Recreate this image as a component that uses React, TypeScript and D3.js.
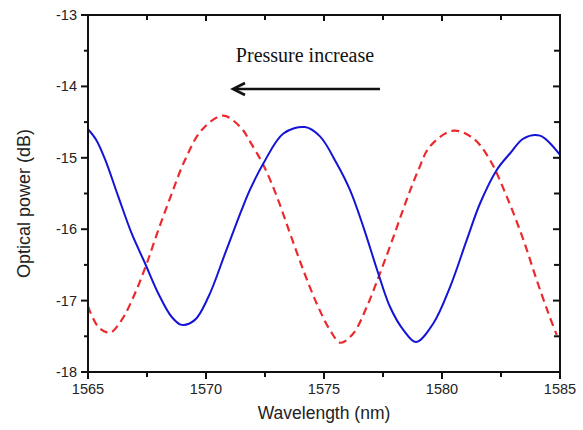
import React from "react";
import * as d3 from "d3";

const blueWl = [1565.0, 1565.35, 1565.72, 1566.28, 1566.85, 1567.42, 1567.98, 1568.55, 1568.97, 1569.53, 1570.1, 1570.81, 1571.51, 1571.86, 1572.43, 1573.28, 1574.19, 1574.83, 1575.54, 1576.1, 1576.67, 1577.3, 1577.8, 1578.36, 1578.9, 1579.63, 1580.34, 1581.05, 1581.61, 1582.32, 1582.88, 1583.45, 1584.15, 1585.0];
const bluePow = [-14.6, -14.75, -15.02, -15.54, -16.06, -16.48, -16.9, -17.23, -17.34, -17.27, -16.95, -16.34, -15.73, -15.45, -15.08, -14.66, -14.57, -14.7, -15.08, -15.45, -15.97, -16.62, -17.09, -17.41, -17.58, -17.32, -16.81, -16.15, -15.64, -15.17, -14.94, -14.73, -14.69, -14.96];

const redWl = [1565.0, 1565.44, 1565.93, 1566.43, 1566.99, 1567.49, 1567.98, 1568.55, 1569.11, 1569.82, 1570.73, 1571.51, 1571.86, 1572.43, 1573.0, 1573.56, 1574.12, 1574.69, 1575.25, 1575.7, 1576.24, 1576.81, 1577.37, 1577.94, 1578.5, 1579.0, 1579.49, 1580.48, 1581.33, 1582.03, 1582.74, 1583.45, 1584.01, 1584.51, 1584.86];
const redPow = [-17.08, -17.37, -17.45, -17.27, -16.9, -16.48, -16.01, -15.5, -15.03, -14.61, -14.41, -14.59, -14.77, -15.1, -15.54, -16.06, -16.57, -17.04, -17.41, -17.59, -17.46, -17.09, -16.62, -16.11, -15.59, -15.17, -14.84, -14.62, -14.73, -15.03, -15.54, -16.15, -16.71, -17.18, -17.48];

const xMajor = [1565, 1570, 1575, 1580, 1585];
const xMinor = [1567.5, 1572.5, 1577.5, 1582.5];
const yMajor = [-13, -14, -15, -16, -17, -18];
const yMinor = [-13.5, -14.5, -15.5, -16.5, -17.5];

const xTitle = "Wavelength (nm)";
const yTitle = "Optical power (dB)";
const annotation = "Pressure increase";

const W = 583, H = 430;
const M = { left: 88, right: 23, top: 15, bottom: 58 };

export default function App() {
  const x = d3.scaleLinear().domain([1565, 1585]).range([M.left, W - M.right]);
  const y = d3.scaleLinear().domain([-18, -13]).range([H - M.bottom, M.top]);
  const line = d3.line<[number, number]>().x(d => x(d[0])).y(d => y(d[1])).curve(d3.curveCatmullRom.alpha(0.5));
  const blue = blueWl.map((w, i) => [w, bluePow[i]] as [number, number]);
  const red = redWl.map((w, i) => [w, redPow[i]] as [number, number]);
  const x0 = x(1565), x1 = x(1585), y0 = y(-18), y1 = y(-13);
  const sans = "Liberation Sans, Arial, sans-serif";
  const ax = 233, ax2 = 380, ay = 89;
  return (
    <svg width={W} height={H} style={{ position: "absolute", left: 0, top: 0, background: "#fff" }}>
      <defs>
        <clipPath id="plot"><rect x={x0} y={y1} width={x1 - x0} height={y0 - y1} /></clipPath>
      </defs>
      <g clipPath="url(#plot)">
        <path d={line(red) || ""} fill="none" stroke="#ec2a2e" strokeWidth={2.2} strokeDasharray="8,5" />
        <path d={line(blue) || ""} fill="none" stroke="#1414d6" strokeWidth={2} />
      </g>
      <rect x={x0} y={y1} width={x1 - x0} height={y0 - y1} fill="none" stroke="#111" strokeWidth={2} />
      {xMajor.map(v => (
        <g key={"xM" + v}>
          <line x1={x(v)} x2={x(v)} y1={y0} y2={y0 + 7} stroke="#111" strokeWidth={2} />
          <line x1={x(v)} x2={x(v)} y1={y1} y2={y1 + 6} stroke="#111" strokeWidth={2} />
          <text x={x(v)} y={y0 + 22} textAnchor="middle" fontFamily={sans} fontSize={14.5} fill="#222">{v}</text>
        </g>
      ))}
      {xMinor.map(v => (
        <g key={"xm" + v}>
          <line x1={x(v)} x2={x(v)} y1={y0} y2={y0 + 5} stroke="#111" strokeWidth={2} />
          <line x1={x(v)} x2={x(v)} y1={y1} y2={y1 + 5} stroke="#111" strokeWidth={2} />
        </g>
      ))}
      {yMajor.map(v => (
        <g key={"yM" + v}>
          <line x1={x0 - 7} x2={x0} y1={y(v)} y2={y(v)} stroke="#111" strokeWidth={2} />
          <line x1={x1 - 7} x2={x1} y1={y(v)} y2={y(v)} stroke="#111" strokeWidth={2} />
          <text x={x0 - 11} y={y(v) + 5} textAnchor="end" fontFamily={sans} fontSize={14.5} fill="#222">{v}</text>
        </g>
      ))}
      {yMinor.map(v => (
        <g key={"ym" + v}>
          <line x1={x0 - 4} x2={x0} y1={y(v)} y2={y(v)} stroke="#111" strokeWidth={2} />
          <line x1={x1 - 6} x2={x1} y1={y(v)} y2={y(v)} stroke="#111" strokeWidth={2} />
        </g>
      ))}
      <text x={(x0 + x1) / 2} y={419} textAnchor="middle" fontFamily={sans} fontSize={17.5} fill="#222">{xTitle}</text>
      <text transform={`translate(30, ${(y0 + y1) / 2 + 10}) rotate(-90)`} textAnchor="middle" fontFamily={sans} fontSize={18} fill="#222">{yTitle}</text>
      <text x={305} y={62} textAnchor="middle" fontFamily="Liberation Serif, Times New Roman, serif" fontSize={20} fill="#111">{annotation}</text>
      <line x1={ax + 2} x2={ax2} y1={ay} y2={ay} stroke="#111" strokeWidth={2.6} />
      <polyline points={`${ax + 12},${ay - 6} ${ax},${ay} ${ax + 12},${ay + 6}`} fill="none" stroke="#111" strokeWidth={2.6} strokeLinejoin="miter" />
    </svg>
  );
}
